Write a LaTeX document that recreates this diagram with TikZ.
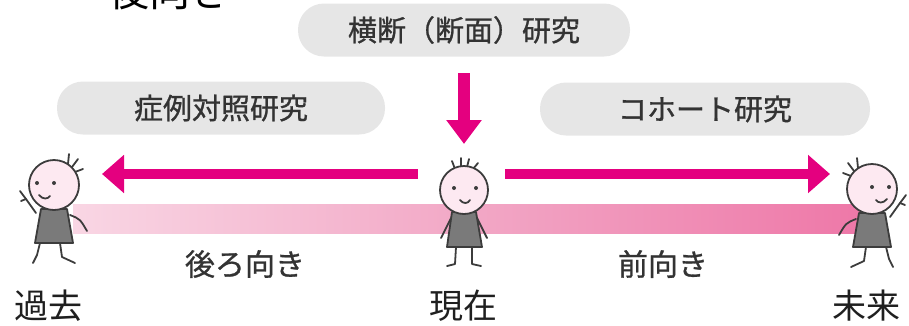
\documentclass[tikz,border=0pt]{standalone}
\usepackage{fontspec}
\setmainfont{Noto Sans CJK JP}
\newfontfamily\pillfont[FakeBold=0.9]{Noto Sans CJK JP}
\usetikzlibrary{arrows.meta}

\definecolor{pillgray}{HTML}{E6E6E6}
\definecolor{txtgray}{HTML}{333333}
\definecolor{magenta}{HTML}{E4007F}
\definecolor{barlight}{HTML}{F9D6E4}
\definecolor{barmid}{HTML}{F2A8C6}
\definecolor{bardark}{HTML}{EE78A8}
\definecolor{inkline}{HTML}{3C3C3C}
\definecolor{skin}{HTML}{FDE9F1}
\definecolor{shirt}{HTML}{7A7A7A}

\tikzset{
  pill/.style={fill=pillgray, rounded corners=26pt, minimum height=53pt,
    text=txtgray, font=\pillfont\fontsize{29pt}{31pt}\selectfont, inner sep=0pt},
  timelabel/.style={text=black!88, font=\fontsize{34pt}{36pt}\selectfont, inner sep=0pt},
  dirlabel/.style={text=txtgray, font=\pillfont\fontsize{30pt}{32pt}\selectfont, inner sep=0pt},
  bigarrow/.style={magenta, line width=10pt,
    -{Triangle[length=22pt,width=37pt]}},
  downarrow/.style={magenta, line width=12pt,
    -{Triangle[length=24pt,width=34pt]}},
  stroke/.style={inkline, line width=1.8pt, line cap=round, line join=round},
  pics/walker/.style={code={
    % hair
    \draw[stroke] (14,-21) -- (15,-31);
    \draw[stroke] (18,-18) -- (24,-26);
    \draw[stroke] (21,-13) -- (29,-16);
    % arms and legs
    \draw[stroke] (-18,28) -- (-28,14) -- (-34,6);
    \draw[stroke] (-28,14) -- (-33,16);
    \draw[stroke] (16,30) .. controls (26,34) .. (33,46);
    \draw[stroke] (-14,58) -- (-17,70) -- (-21,78);
    \draw[stroke] (6,58) -- (8,72) -- (21,78);
    % body
    \draw[stroke, fill=shirt] (-13,24) -- (13,24) -- (19,58) -- (-19,58) -- cycle;
    % head
    \draw[stroke, fill=skin] (0,0) circle (25);
    \fill[inkline] (-17,-2) circle (2);
    \fill[inkline] (0,-2) circle (2);
    \draw[stroke] (-15,10) .. controls (-11,15) and (-6,14) .. (-4,11);
  }},
  pics/stander/.style={code={
    % hair
    \draw[stroke] (-9,-21) -- (-12,-29);
    \draw[stroke] (-3,-23) -- (-3,-32);
    \draw[stroke] (3,-23) -- (5,-31);
    \draw[stroke] (9,-21) -- (14,-27);
    % arms and legs
    \draw[stroke] (-13,28) -- (-23,48);
    \draw[stroke] (13,28) -- (23,48);
    \draw[stroke] (-8,57) -- (-9,74) -- (-17,76);
    \draw[stroke] (8,57) -- (8,74) -- (17,76);
    % body
    \draw[stroke, fill=shirt] (-12,22) -- (12,22) -- (18,57) -- (-17,57) -- cycle;
    % head
    \draw[stroke, fill=skin] (0,0) circle (24);
    \fill[inkline] (-10,-2) circle (2);
    \fill[inkline] (12,-2) circle (2);
    \draw[stroke] (-4,10) .. controls (-1,14) and (4,14) .. (6,10);
  }},
}

\begin{document}
\begin{tikzpicture}[x=1pt, y=-1pt]
\useasboundingbox (0,0) rectangle (909,325);
\clip (0,0) rectangle (909,325);

% heading, partly above the edge
\node[anchor=base, font=\fontsize{41pt}{43pt}\selectfont, text=black] (head) at (170,6) {後向き};

% study type labels
\node[pill, minimum width=332pt] (cross) at (464,30) {横断（断面）研究};
\node[pill, minimum width=328pt] (casecontrol) at (221,108) {症例対照研究};
\node[pill, minimum width=330pt] (cohort) at (705,109) {コホート研究};

% time bar
\shade[left color=barlight, right color=bardark, middle color=barmid]
  (73,204) rectangle (860,233);

% figures
\coordinate (past) at (54,185);
\coordinate (now) at (464,190);
\coordinate (future) at (872,189);
\pic at (past) {walker};
\pic at (now) {stander};
\pic[xscale=-1] at (future) {walker};

% arrows
\coordinate (downstart) at (464,73);
\coordinate (downend) at (464,144);
\coordinate (leftstart) at (418,174);
\coordinate (leftend) at (102,174);
\coordinate (rightstart) at (505,174);
\coordinate (rightend) at (830,174);
\draw[downarrow] (downstart) -- (downend);
\draw[bigarrow] (leftstart) -- (leftend);
\draw[bigarrow] (rightstart) -- (rightend);

% direction labels
\node[dirlabel] (back) at (245,264) {後ろ向き};
\node[dirlabel] (fwd) at (663,264) {前向き};

% time labels
\node[timelabel] (lpast) at (48,306) {過去};
\node[timelabel] (lnow) at (463,306) {現在};
\node[timelabel] (lfuture) at (866,306) {未来};
\end{tikzpicture}
\end{document}
